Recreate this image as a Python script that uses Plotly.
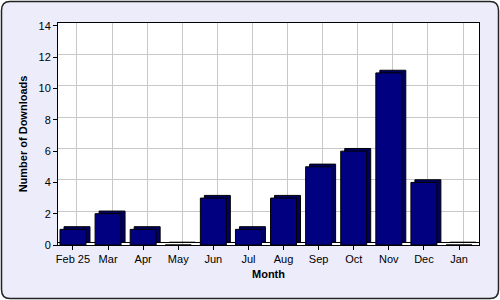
import plotly.graph_objects as go

months = ["Feb 25", "Mar", "Apr", "May", "Jun", "Jul", "Aug", "Sep", "Oct", "Nov", "Dec", "Jan"]
downloads = [1, 2, 1, 0, 3, 1, 3, 5, 6, 11, 4, 0]
y_ticks = [0, 2, 4, 6, 8, 10, 12, 14]

FONT = "Liberation Sans, Arial, sans-serif"
X_DOM = [58 / 500, 479 / 500]
Y_DOM = [1 - 245 / 300, 1 - 23 / 300]

fig = go.Figure()

# depth (back) face of bars, on back-wall axes
fig.add_trace(go.Bar(
    x=months, y=downloads, width=0.74,
    marker=dict(color="#000060", line=dict(color="black", width=1)),
    xaxis="x", yaxis="y", showlegend=False, hoverinfo="skip",
))
# front face of bars
fig.add_trace(go.Bar(
    x=months, y=downloads, width=0.74,
    marker=dict(color="#000080", line=dict(color="black", width=1)),
    xaxis="x2", yaxis="y2", showlegend=False,
))

outer = ("M 0.02,0.995 L 0.98,0.995 Q 0.997,0.995 0.997,0.965 "
         "L 0.997,0.035 Q 0.997,0.005 0.98,0.005 L 0.02,0.005 "
         "Q 0.003,0.005 0.003,0.035 L 0.003,0.965 Q 0.003,0.995 0.02,0.995 Z")

fig.update_layout(
    width=500, height=300, autosize=False,
    margin=dict(l=0, r=0, t=0, b=0, pad=0, autoexpand=False),
    paper_bgcolor="white", plot_bgcolor="rgba(0,0,0,0)",
    font=dict(family=FONT, size=11, color="black"),
    shapes=[
        dict(type="path", path=outer, xref="paper", yref="paper",
             fillcolor="#ececfb", line=dict(color="#222222", width=1.5), layer="below"),
        dict(type="rect", xref="x domain", yref="y domain", x0=0, x1=1, y0=0, y1=1,
             fillcolor="white", line=dict(width=0), layer="below"),
    ],
    xaxis=dict(
        domain=X_DOM, anchor="y", type="category", automargin=False,
        range=[-0.541, 11.456], showgrid=True, gridcolor="#c8c8c8", gridwidth=1,
        showticklabels=False, ticks="", showline=False, zeroline=False,
    ),
    yaxis=dict(
        domain=Y_DOM, anchor="x", automargin=False,
        range=[-0.17, 14.02], tickvals=y_ticks, showgrid=True, gridcolor="#c8c8c8",
        gridwidth=1, showticklabels=False, ticks="", showline=False,
        zeroline=True, zerolinecolor="black", zerolinewidth=1,
    ),
    xaxis2=dict(
        overlaying="x", anchor="y2", type="category", automargin=False,
        range=[-0.427, 11.57], showgrid=False, zeroline=False,
        showline=True, linecolor="black", linewidth=1, mirror=True,
        ticks="outside", ticklen=4, tickcolor="black",
        tickfont=dict(size=11),
        title=dict(text="<b>Month</b>", font=dict(size=11), standoff=6),
    ),
    yaxis2=dict(
        overlaying="y", anchor="x2", automargin=False,
        range=[0, 14.19], tickvals=y_ticks, ticktext=[str(v) for v in y_ticks],
        showgrid=False, zeroline=False,
        showline=True, linecolor="black", linewidth=1, mirror=True,
        ticks="outside", ticklen=4, tickcolor="black",
        tickfont=dict(size=11),
        title=dict(text="<b>Number of Downloads</b>", font=dict(size=11), standoff=8),
    ),
)

fig.write_html("out.html")
